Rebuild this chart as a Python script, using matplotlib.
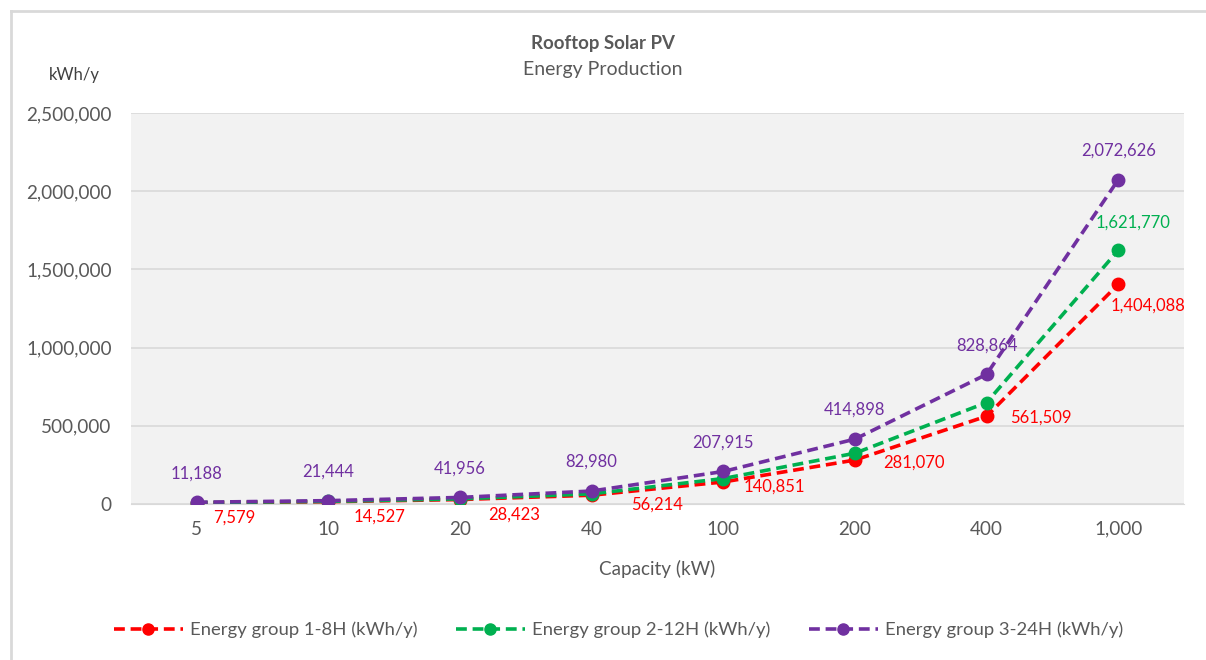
import matplotlib.pyplot as plt
from matplotlib.lines import Line2D
from matplotlib.ticker import FuncFormatter

plt.rcParams['font.family'] = ['Lato', 'DejaVu Sans']

# data
capacity = ['5', '10', '20', '40', '100', '200', '400', '1,000']
group1 = [7579, 14527, 28423, 56214, 140851, 281070, 561509, 1404088]
group2 = [8750, 16780, 32830, 64930, 162700, 324650, 648600, 1621770]
group3 = [11188, 21444, 41956, 82980, 207915, 414898, 828864, 2072626]

# where the red labels sit relative to their marker (pixels, right / down)
red_offsets = [(16, 15), (25, 15), (28, 15), (39, 9), (20, 5), (28, 3), (24, 1), (-8, 21)]

red = '#ff0000'
green = '#00b050'
purple = '#7030a0'
grey = '#595959'
dash = (0, (3, 1.6))
px = 0.72  # points per pixel at dpi 100

fig = plt.figure(figsize=(12.06, 6.6), dpi=100)
ax = fig.add_axes([131/1206, 1 - 504/660, 1053/1206, 391/660])
ax.set_facecolor('#f2f2f2')

x = range(len(capacity))
ax.plot(x, group1, color=red, ls=dash, lw=2.6, marker='o', ms=9, zorder=3)
ax.plot(x, group2, color=green, ls=dash, lw=2.6, marker='o', ms=9, zorder=4)
ax.plot(x, group3, color=purple, ls=dash, lw=2.6, marker='o', ms=9, zorder=5)

ax.set_xlim(-0.5, len(capacity) - 0.5)
ax.set_ylim(0, 2500000)
ax.set_yticks(range(0, 2500001, 500000))
ax.yaxis.set_major_formatter(FuncFormatter(lambda v, p: f'{int(v):,}'))
ax.set_xticks(list(x))
ax.set_xticklabels(capacity)
ax.grid(axis='y', color='#d9d9d9', lw=1.2)
ax.set_axisbelow(True)
for s in ['top', 'right', 'left']:
    ax.spines[s].set_visible(False)
ax.spines['bottom'].set_color('#d9d9d9')
ax.tick_params(length=0, labelsize=13.6, labelcolor=grey)
ax.tick_params(axis='x', pad=12)
ax.tick_params(axis='y', pad=14)
ax.set_xlabel('Capacity (kW)', fontsize=13.6, color=grey, labelpad=16)

# data labels
for i, v in enumerate(group3):
    ax.annotate(f'{v:,}', (i, v), xytext=(0, 29 * px), textcoords='offset points',
                ha='center', va='center', fontsize=12, color=purple)
for i, v in enumerate(group1):
    dx, dy = red_offsets[i]
    ax.annotate(f'{v:,}', (i, v), xytext=(dx * px, -dy * px), textcoords='offset points',
                ha='left', va='center', fontsize=12, color=red)
ax.annotate(f'{group2[-1]:,}', (len(group2) - 1, group2[-1]), xytext=(15 * px, 28 * px),
            textcoords='offset points', ha='center', va='center', fontsize=12, color=green)

fig.text(0.5, 1 - 44/660, 'Rooftop Solar PV', ha='center', va='center',
         fontsize=13.4, fontweight='bold', color=grey)
fig.text(0.5, 1 - 70/660, 'Energy Production', ha='center', va='center',
         fontsize=14, color=grey)
fig.text(74/1206, 1 - 75/660, 'kWh/y', ha='center', va='center', fontsize=12, color='#404040')

handles = [Line2D([], [], color=c, ls=dash, lw=2.6, marker='o', ms=8)
           for c in (red, green, purple)]
labels = ['Energy group 1-8H (kWh/y)', 'Energy group 2-12H (kWh/y)', 'Energy group 3-24H (kWh/y)']
leg = fig.legend(handles, labels, loc='center', bbox_to_anchor=(0.513, 1 - 630/660), ncol=3,
                 frameon=False, fontsize=13.3, handlelength=3.7, columnspacing=2.1,
                 handletextpad=0.4)
for t in leg.get_texts():
    t.set_color(grey)

# chart frame (left and top edges only visible)
fig.add_artist(Line2D([11/1206, 11/1206], [0, 1 - 11/660], transform=fig.transFigure,
                      color='#d9d9d9', lw=2))
fig.add_artist(Line2D([11/1206, 1205/1206], [1 - 11/660, 1 - 11/660], transform=fig.transFigure,
                      color='#d9d9d9', lw=2))

fig.savefig('out.png', dpi=100)
